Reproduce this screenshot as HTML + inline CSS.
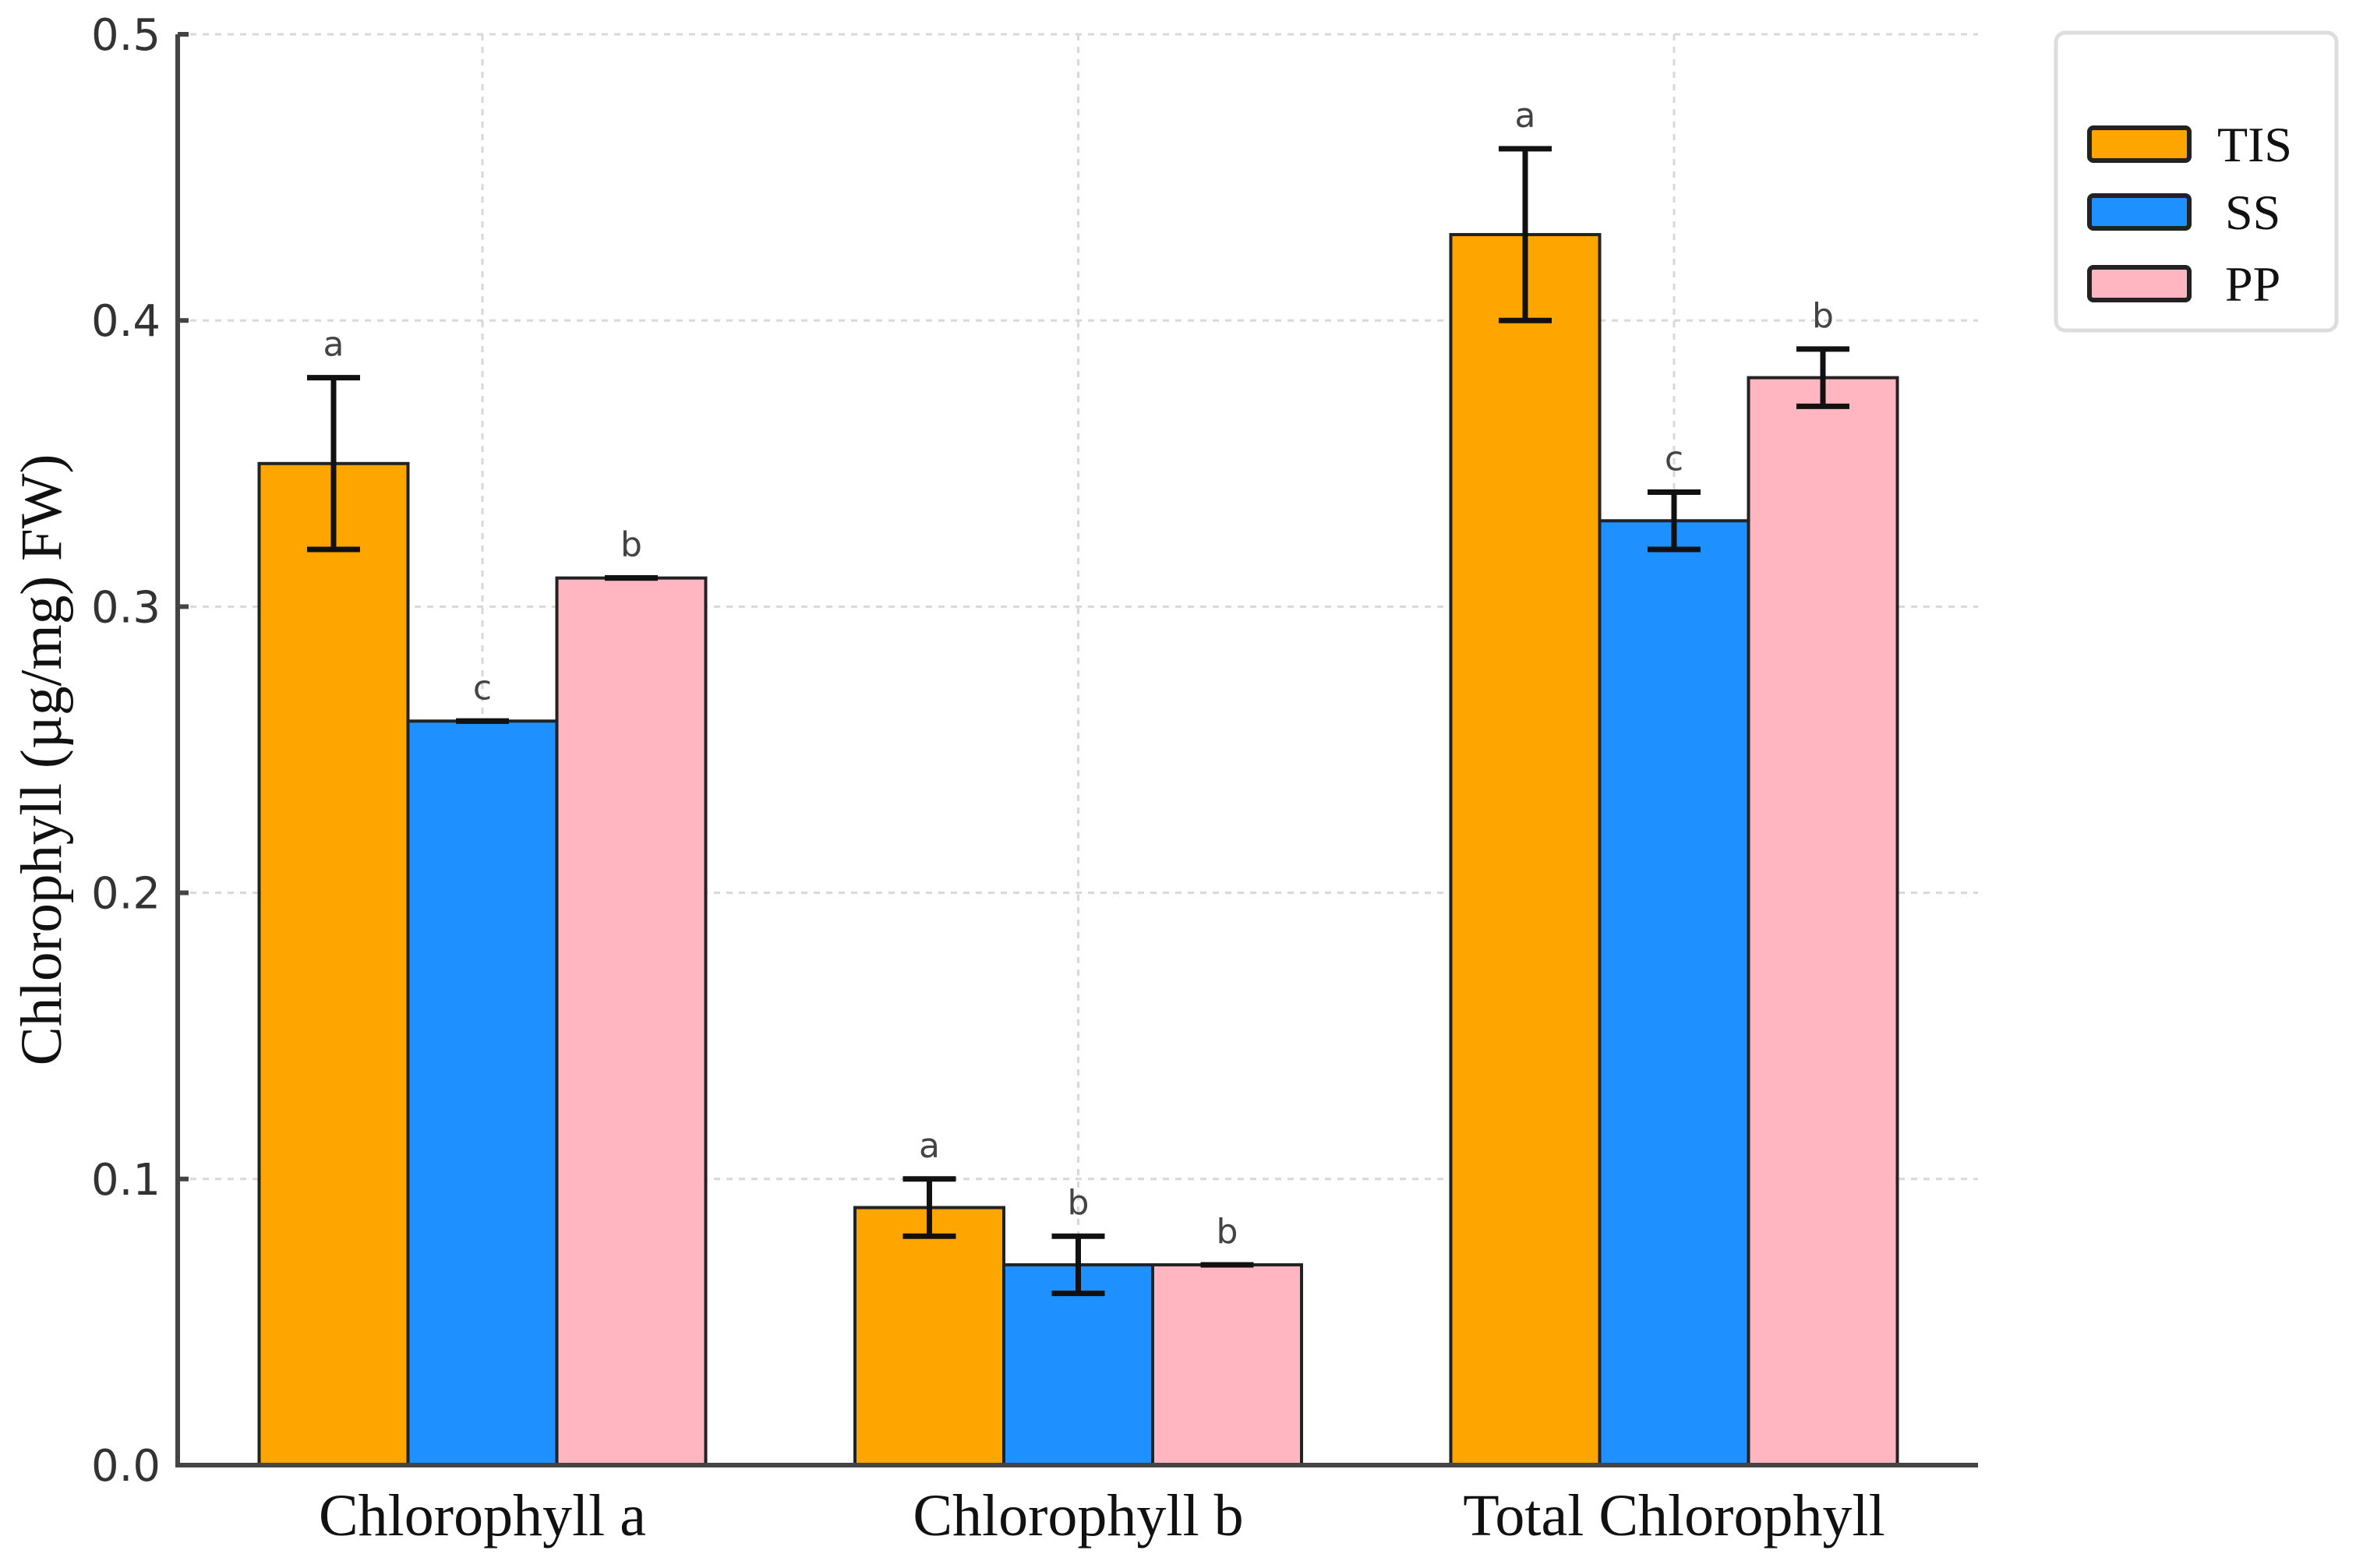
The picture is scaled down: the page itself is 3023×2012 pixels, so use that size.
<!DOCTYPE html>
<html><head><meta charset="utf-8"><style>
html,body{margin:0;padding:0;background:#fff;}
svg{display:block;}
</style></head><body>
<svg id="chart" width="3023" height="2012" viewBox="0 0 3023 2012" xmlns="http://www.w3.org/2000/svg">
<g id="grid"></g>
<g id="bars"></g>
<g id="axes"></g>
<text transform="translate(78,975) rotate(-90)" text-anchor="middle" font-family="Liberation Serif, serif" font-size="75" fill="#111">Chlorophyll (µg/mg) FW)</text>
<g>
<rect x="2638" y="42" width="360" height="382" rx="12" fill="#fff" stroke="#ddd" stroke-width="5"/>
<g id="legend-entries"></g>
</g>
</svg>
<script>
const categories = ["Chlorophyll a", "Chlorophyll b", "Total Chlorophyll"];
const seriesNames = ["TIS", "SS", "PP"];
const tisValues = [0.35, 0.09, 0.43];
const ssValues = [0.26, 0.07, 0.33];
const ppValues = [0.31, 0.07, 0.38];
const tisErr = [0.03, 0.01, 0.03];
const ssErr = [0.0, 0.01, 0.01];
const ppErr = [0.0, 0.0, 0.01];
const tisLetters = ["a", "a", "a"];
const ssLetters = ["c", "b", "c"];
const ppLetters = ["b", "b", "b"];
const yTicks = ["0.0", "0.1", "0.2", "0.3", "0.4", "0.5"];

const NS = "http://www.w3.org/2000/svg";
const colors = ["#FFA500", "#1E90FF", "#FFB6C1"];
const x0 = 228, x1 = 2538, yBase = 1880, yTop = 44, yMax = 0.5;
const groupCenters0 = 619, groupStep = 764.5, barW = 191;
function y(v){ return yBase - (v / yMax) * (yBase - yTop); }
function gx(i){ return groupCenters0 + i * groupStep; }
function mk(tag, attrs, parent){ const e = document.createElementNS(NS, tag); for (const k in attrs) e.setAttribute(k, attrs[k]); parent.appendChild(e); return e; }

const grid = document.getElementById('grid');
const bars = document.getElementById('bars');
const axes = document.getElementById('axes');

yTicks.forEach(function(t){
  const v = parseFloat(t), yy = y(v);
  if (v > 0) {
    const g = mk('line', {x1:x0, x2:x1, y1:yy, y2:yy, stroke:'#d8d8d8', 'stroke-width':3, 'stroke-dasharray':'8,8'}, grid);
    
    
  }
  const tk = mk('line', {x1:x0, x2:x0+14, y1:yy, y2:yy, stroke:'#444', 'stroke-width':6}, axes);
  
  
  const lb = mk('text', {x:x0-22, y:yy+20, 'text-anchor':'end', 'font-family':'DejaVu Sans, sans-serif', 'font-size':56, fill:'#333'}, axes);
  lb.textContent = t;
  
  
});
categories.forEach(function(c, i){
  const gl = mk('line', {x1:gx(i), x2:gx(i), y1:yTop, y2:yBase, stroke:'#d8d8d8', 'stroke-width':3, 'stroke-dasharray':'8,8'}, grid);
  
  
  const lb = mk('text', {x:gx(i), y:1970, 'text-anchor':'middle', 'font-family':'Liberation Serif, serif', 'font-size':76, fill:'#111'}, axes);
  lb.textContent = c;
  
  
});

const allVals = [tisValues, ssValues, ppValues];
const allErr = [tisErr, ssErr, ppErr];
const allLetters = [tisLetters, ssLetters, ppLetters];
allVals.forEach(function(vals, s){
  vals.forEach(function(v, i){
    const bx = gx(i) + (s - 1) * barW - barW/2;
    const r = mk('rect', {x:bx, y:y(v), width:barW, height:yBase - y(v), fill:colors[s], stroke:'#222', 'stroke-width':4}, bars);
    
    
    const cx = bx + barW/2, e = allErr[s][i];
    const eg = mk('g', {stroke:'#111', 'stroke-width':7}, bars);
    
    
    mk('line', {x1:cx, x2:cx, y1:y(v+e), y2:y(v-e)}, eg);
    mk('line', {x1:cx-34, x2:cx+34, y1:y(v+e), y2:y(v+e)}, eg);
    mk('line', {x1:cx-34, x2:cx+34, y1:y(v-e), y2:y(v-e)}, eg);
    const t = mk('text', {x:cx, y:y(v+e)-28, 'text-anchor':'middle', 'font-family':'DejaVu Sans, sans-serif', 'font-size':44, fill:'#444'}, bars);
    t.textContent = allLetters[s][i];
    
    
  });
});

const ax = mk('path', {d:'M'+x0+' '+yTop+' V'+yBase+' H'+x1, fill:'none', stroke:'#444', 'stroke-width':6}, axes);



const le = document.getElementById('legend-entries');
const rowY = [185, 272, 364];
seriesNames.forEach(function(n, s){
  const sw = mk('rect', {x:2681, y:rowY[s]-21, width:128, height:42, rx:5, fill:colors[s], stroke:'#222', 'stroke-width':6}, le);
  
  
  const t = mk('text', {x:2845 + (s===0?0:10), y:rowY[s]+22, 'font-family':'Liberation Serif, serif', 'font-size':64, fill:'#111'}, le);
  t.textContent = n;
  
  
});
</script>
</body></html>
